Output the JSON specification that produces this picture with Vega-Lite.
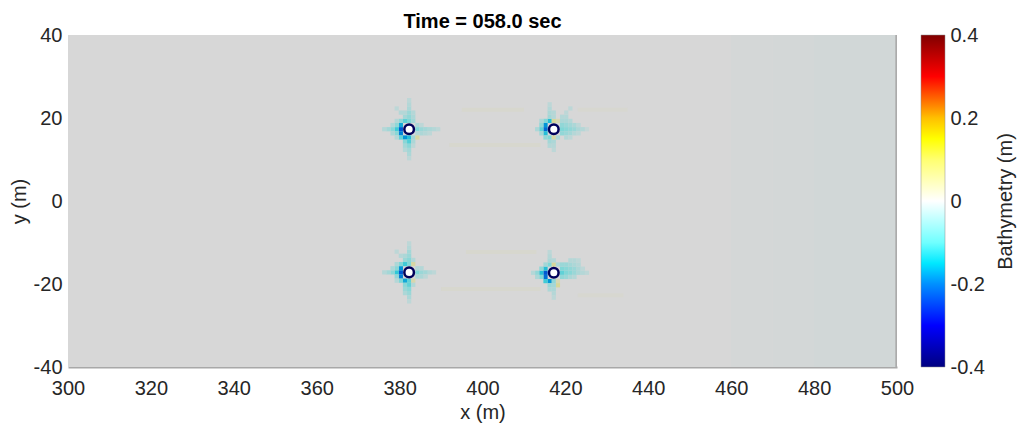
{
  "$schema": "https://vega.github.io/schema/vega-lite/v6.json",
  "background": "white",
  "padding": {"left": 9, "top": 12, "right": 5, "bottom": 5},
  "config": {
    "font": "Liberation Sans",
    "view": {"stroke": null},
    "axis": {"labelFontSize": 20, "titleFontSize": 20, "labelColor": "#262626", "titleColor": "#262626", "titleFontWeight": "normal", "grid": false, "ticks": false}
  },
  "datasets": {
    "patches": [
      {"x": 300, "x2": 500, "y": -40, "y2": 40, "v": 0},
      {"x": 460, "x2": 470, "y": -40, "y2": 40, "v": -0.003},
      {"x": 470, "x2": 480, "y": -40, "y2": 40, "v": -0.005},
      {"x": 480, "x2": 500, "y": -40, "y2": 40, "v": -0.007},
      {"x": 395, "x2": 410, "y": 21.5, "y2": 22.5, "v": 0.01},
      {"x": 392, "x2": 414, "y": 13, "y2": 14, "v": 0.01},
      {"x": 423, "x2": 435, "y": 21.5, "y2": 22.5, "v": 0.008},
      {"x": 396, "x2": 413, "y": -12.8, "y2": -11.8, "v": 0.01},
      {"x": 390, "x2": 414, "y": -21.7, "y2": -20.7, "v": 0.01},
      {"x": 423, "x2": 434, "y": -23.2, "y2": -22.2, "v": 0.008}
    ],
    "edge": [{"x": 499.6, "x2": 500, "y": -40, "y2": 40}],
    "cells": [
      {"x": 380.3, "y": 17.3, "v": -0.26}, {"x": 380.3, "y": 18.3, "v": -0.18}, {"x": 380.3, "y": 16.3, "v": -0.22},
      {"x": 381.3, "y": 15.3, "v": -0.2}, {"x": 382.3, "y": 15.3, "v": -0.16}, {"x": 383.3, "y": 15.3, "v": -0.06},
      {"x": 381.3, "y": 19.3, "v": -0.12}, {"x": 382.3, "y": 19.3, "v": -0.1}, {"x": 383.3, "y": 19.3, "v": -0.06},
      {"x": 384.3, "y": 17.3, "v": -0.1}, {"x": 384.3, "y": 18.3, "v": -0.05}, {"x": 384.3, "y": 16.3, "v": -0.04},
      {"x": 384.3, "y": 15.3, "v": 0.06}, {"x": 380.3, "y": 19.3, "v": -0.08}, {"x": 380.3, "y": 15.3, "v": -0.12},
      {"x": 379.3, "y": 17.3, "v": -0.14}, {"x": 379.3, "y": 16.3, "v": -0.09}, {"x": 379.3, "y": 18.3, "v": -0.08},
      {"x": 378.3, "y": 17.3, "v": -0.09}, {"x": 377.3, "y": 17.3, "v": -0.06}, {"x": 376.3, "y": 17.3, "v": -0.04},
      {"x": 378.3, "y": 16.3, "v": -0.05}, {"x": 378.3, "y": 18.3, "v": -0.04},
      {"x": 382.3, "y": 20.3, "v": -0.08}, {"x": 382.3, "y": 21.3, "v": -0.07}, {"x": 382.3, "y": 22.3, "v": -0.05},
      {"x": 382.3, "y": 23.3, "v": -0.04}, {"x": 382.3, "y": 24.3, "v": -0.03}, {"x": 383.3, "y": 20.3, "v": -0.05},
      {"x": 383.3, "y": 21.3, "v": -0.04}, {"x": 381.3, "y": 20.3, "v": -0.06}, {"x": 380.3, "y": 21.3, "v": -0.04},
      {"x": 379.3, "y": 22.3, "v": -0.03}, {"x": 381.3, "y": 21.3, "v": -0.04},
      {"x": 382.3, "y": 14.3, "v": -0.13}, {"x": 381.3, "y": 14.3, "v": -0.09}, {"x": 382.3, "y": 13.3, "v": -0.09},
      {"x": 382.3, "y": 12.3, "v": -0.06}, {"x": 382.3, "y": 11.3, "v": -0.05}, {"x": 382.3, "y": 10.3, "v": -0.03},
      {"x": 381.3, "y": 13.3, "v": -0.06}, {"x": 383.3, "y": 14.3, "v": -0.05}, {"x": 381.3, "y": 12.3, "v": -0.04},
      {"x": 383.3, "y": 13.3, "v": -0.03},
      {"x": 385.3, "y": 17.3, "v": -0.07}, {"x": 386.3, "y": 17.3, "v": -0.06}, {"x": 387.3, "y": 17.3, "v": -0.05},
      {"x": 388.3, "y": 17.3, "v": -0.04}, {"x": 389.3, "y": 17.3, "v": -0.03}, {"x": 385.3, "y": 16.3, "v": -0.05},
      {"x": 386.3, "y": 16.3, "v": -0.04}, {"x": 387.3, "y": 16.3, "v": -0.03}, {"x": 385.3, "y": 18.3, "v": -0.03},
      {"x": 379.3, "y": 15.3, "v": -0.04}, {"x": 379.3, "y": 19.3, "v": -0.04},

      {"x": 380.3, "y": -17.2, "v": -0.26}, {"x": 380.3, "y": -16.2, "v": -0.2}, {"x": 380.3, "y": -18.2, "v": -0.22},
      {"x": 381.3, "y": -19.2, "v": -0.18}, {"x": 382.3, "y": -19.2, "v": -0.12}, {"x": 383.3, "y": -19.2, "v": 0.05},
      {"x": 381.3, "y": -15.2, "v": -0.14}, {"x": 382.3, "y": -15.2, "v": -0.1}, {"x": 383.3, "y": -15.2, "v": 0.06},
      {"x": 384.3, "y": -17.2, "v": -0.1}, {"x": 384.3, "y": -16.2, "v": -0.04}, {"x": 384.3, "y": -18.2, "v": -0.05},
      {"x": 380.3, "y": -15.2, "v": -0.1}, {"x": 380.3, "y": -19.2, "v": -0.1}, {"x": 379.3, "y": -17.2, "v": -0.15},
      {"x": 379.3, "y": -18.2, "v": -0.08}, {"x": 379.3, "y": -16.2, "v": -0.09}, {"x": 378.3, "y": -17.2, "v": -0.09},
      {"x": 377.3, "y": -17.2, "v": -0.06}, {"x": 376.3, "y": -17.2, "v": -0.04}, {"x": 378.3, "y": -16.2, "v": -0.05},
      {"x": 382.3, "y": -14.2, "v": -0.09}, {"x": 382.3, "y": -13.2, "v": -0.07}, {"x": 382.3, "y": -12.2, "v": -0.06},
      {"x": 382.3, "y": -11.2, "v": -0.04}, {"x": 382.3, "y": -10.2, "v": -0.03}, {"x": 381.3, "y": -14.2, "v": -0.07},
      {"x": 381.3, "y": -13.2, "v": -0.05}, {"x": 383.3, "y": -14.2, "v": -0.04}, {"x": 380.3, "y": -13.2, "v": -0.04},
      {"x": 379.3, "y": -12.2, "v": -0.03},
      {"x": 382.3, "y": -20.2, "v": -0.12}, {"x": 381.3, "y": -20.2, "v": -0.09}, {"x": 382.3, "y": -21.2, "v": -0.09},
      {"x": 382.3, "y": -22.2, "v": -0.07}, {"x": 382.3, "y": -23.2, "v": -0.05}, {"x": 382.3, "y": -24.2, "v": -0.03},
      {"x": 381.3, "y": -21.2, "v": -0.07}, {"x": 381.3, "y": -22.2, "v": -0.05}, {"x": 383.3, "y": -20.2, "v": -0.04},
      {"x": 385.3, "y": -17.2, "v": -0.07}, {"x": 386.3, "y": -17.2, "v": -0.06}, {"x": 387.3, "y": -17.2, "v": -0.04},
      {"x": 388.3, "y": -17.2, "v": -0.03}, {"x": 385.3, "y": -16.2, "v": -0.04}, {"x": 385.3, "y": -18.2, "v": -0.05},
      {"x": 386.3, "y": -18.2, "v": -0.03}, {"x": 379.3, "y": -19.2, "v": -0.04}, {"x": 379.3, "y": -15.2, "v": -0.05},

      {"x": 415.2, "y": 17.3, "v": -0.24}, {"x": 415.2, "y": 18.3, "v": -0.2}, {"x": 415.2, "y": 16.3, "v": -0.16},
      {"x": 416.2, "y": 19.3, "v": -0.16}, {"x": 417.2, "y": 19.3, "v": 0.07}, {"x": 418.2, "y": 19.3, "v": 0.04},
      {"x": 416.2, "y": 15.3, "v": -0.1}, {"x": 417.2, "y": 15.3, "v": 0.06}, {"x": 418.2, "y": 15.3, "v": -0.05},
      {"x": 419.2, "y": 17.3, "v": -0.1}, {"x": 419.2, "y": 18.3, "v": -0.08}, {"x": 419.2, "y": 16.3, "v": -0.08},
      {"x": 415.2, "y": 19.3, "v": -0.1}, {"x": 415.2, "y": 15.3, "v": -0.08}, {"x": 414.2, "y": 17.3, "v": -0.12},
      {"x": 414.2, "y": 18.3, "v": -0.08}, {"x": 414.2, "y": 16.3, "v": -0.06}, {"x": 413.2, "y": 17.3, "v": -0.05},
      {"x": 414.2, "y": 19.3, "v": -0.05},
      {"x": 420.2, "y": 17.3, "v": -0.09}, {"x": 421.2, "y": 17.3, "v": -0.08}, {"x": 422.2, "y": 17.3, "v": -0.07},
      {"x": 423.2, "y": 17.3, "v": -0.05}, {"x": 424.2, "y": 17.3, "v": -0.04}, {"x": 425.2, "y": 17.3, "v": -0.02},
      {"x": 420.2, "y": 18.3, "v": -0.07}, {"x": 421.2, "y": 18.3, "v": -0.06}, {"x": 422.2, "y": 18.3, "v": -0.05},
      {"x": 423.2, "y": 18.3, "v": -0.03}, {"x": 420.2, "y": 16.3, "v": -0.07}, {"x": 421.2, "y": 16.3, "v": -0.06},
      {"x": 422.2, "y": 16.3, "v": -0.04}, {"x": 423.2, "y": 16.3, "v": -0.03}, {"x": 420.2, "y": 15.3, "v": -0.04},
      {"x": 421.2, "y": 15.3, "v": -0.03},
      {"x": 419.2, "y": 20.3, "v": -0.04}, {"x": 420.2, "y": 20.3, "v": -0.04}, {"x": 420.2, "y": 21.3, "v": -0.03},
      {"x": 421.2, "y": 22.3, "v": -0.03}, {"x": 419.2, "y": 19.3, "v": -0.05}, {"x": 420.2, "y": 19.3, "v": -0.05},
      {"x": 421.2, "y": 19.3, "v": -0.04},
      {"x": 416.2, "y": 20.3, "v": -0.06}, {"x": 416.2, "y": 21.3, "v": -0.05}, {"x": 417.2, "y": 21.3, "v": -0.04},
      {"x": 416.2, "y": 22.3, "v": -0.04}, {"x": 416.2, "y": 23.3, "v": -0.03}, {"x": 417.2, "y": 20.3, "v": -0.04},
      {"x": 417.2, "y": 14.3, "v": -0.05}, {"x": 416.2, "y": 14.3, "v": -0.06}, {"x": 417.2, "y": 13.3, "v": -0.04},
      {"x": 417.2, "y": 12.3, "v": -0.03}, {"x": 416.2, "y": 13.3, "v": -0.04},

      {"x": 415.2, "y": -17.3, "v": -0.26}, {"x": 415.2, "y": -16.3, "v": -0.16}, {"x": 415.2, "y": -18.3, "v": -0.24},
      {"x": 416.2, "y": -19.3, "v": -0.2}, {"x": 417.2, "y": -19.3, "v": -0.08}, {"x": 418.2, "y": -19.3, "v": 0.04},
      {"x": 418.2, "y": -20.3, "v": 0.07}, {"x": 416.2, "y": -15.3, "v": -0.1}, {"x": 417.2, "y": -15.3, "v": 0.07},
      {"x": 418.2, "y": -15.3, "v": -0.05}, {"x": 419.2, "y": -17.3, "v": -0.12}, {"x": 419.2, "y": -16.3, "v": -0.1},
      {"x": 419.2, "y": -18.3, "v": -0.08}, {"x": 415.2, "y": -15.3, "v": -0.06}, {"x": 415.2, "y": -19.3, "v": -0.14},
      {"x": 414.2, "y": -17.3, "v": -0.16}, {"x": 414.2, "y": -18.3, "v": -0.1}, {"x": 414.2, "y": -16.3, "v": -0.08},
      {"x": 413.2, "y": -17.3, "v": -0.08}, {"x": 413.2, "y": -18.3, "v": -0.05}, {"x": 412.2, "y": -17.3, "v": -0.04},
      {"x": 420.2, "y": -17.3, "v": -0.1}, {"x": 421.2, "y": -17.3, "v": -0.09}, {"x": 422.2, "y": -17.3, "v": -0.07},
      {"x": 423.2, "y": -17.3, "v": -0.05}, {"x": 424.2, "y": -17.3, "v": -0.04}, {"x": 425.2, "y": -17.3, "v": -0.03},
      {"x": 420.2, "y": -16.3, "v": -0.09}, {"x": 421.2, "y": -16.3, "v": -0.08}, {"x": 422.2, "y": -16.3, "v": -0.07},
      {"x": 423.2, "y": -16.3, "v": -0.05}, {"x": 424.2, "y": -16.3, "v": -0.03}, {"x": 420.2, "y": -15.3, "v": -0.07},
      {"x": 421.2, "y": -15.3, "v": -0.06}, {"x": 422.2, "y": -15.3, "v": -0.05}, {"x": 423.2, "y": -15.3, "v": -0.04},
      {"x": 421.2, "y": -14.3, "v": -0.04}, {"x": 422.2, "y": -14.3, "v": -0.04}, {"x": 423.2, "y": -14.3, "v": -0.03},
      {"x": 420.2, "y": -18.3, "v": -0.07}, {"x": 421.2, "y": -18.3, "v": -0.05}, {"x": 422.2, "y": -18.3, "v": -0.04},
      {"x": 419.2, "y": -15.3, "v": -0.07},
      {"x": 417.2, "y": -14.3, "v": -0.04}, {"x": 416.2, "y": -14.3, "v": -0.05}, {"x": 416.2, "y": -13.3, "v": -0.04},
      {"x": 416.2, "y": -12.3, "v": -0.03},
      {"x": 417.2, "y": -20.3, "v": -0.06}, {"x": 416.2, "y": -20.3, "v": -0.07}, {"x": 417.2, "y": -21.3, "v": -0.05},
      {"x": 416.2, "y": -21.3, "v": -0.05}, {"x": 417.2, "y": -22.3, "v": -0.04}, {"x": 417.2, "y": -23.3, "v": -0.03}
    ],
    "piles": [
      {"x": 382.3, "y": 17.3}, {"x": 417.2, "y": 17.3}, {"x": 382.3, "y": -17.2}, {"x": 417.2, "y": -17.3}
    ],
    "cbar": [{"lo": -0.4, "hi": 0.4}]
  },
  "hconcat": [
    {
      "width": 829,
      "height": 332,
      "title": {"text": "Time = 058.0 sec", "fontSize": 20, "fontWeight": "bold", "color": "#000000", "anchor": "middle", "offset": -7},
      "encoding": {
        "x": {"field": "x", "type": "quantitative", "scale": {"domain": [300, 500], "nice": false, "zero": false},
          "axis": {"values": [300, 320, 340, 360, 380, 400, 420, 440, 460, 480, 500], "title": "x (m)", "labelPadding": 11, "titlePadding": 4,
            "domain": true, "domainColor": "#a8a8a8", "domainWidth": 2, "labelFlush": false, "labelOverlap": false, "labelExpr": "toString(datum.value)"}},
        "y": {"field": "y", "type": "quantitative", "scale": {"domain": [-40, 40], "nice": false, "zero": false},
          "axis": {"values": [-40, -20, 0, 20, 40], "title": "y (m)", "labelPadding": 6, "titlePadding": 4, "domain": false,
            "labelFlush": false, "labelOverlap": false, "labelBound": false, "labelExpr": "toString(datum.value)"}}
      },
      "layer": [
        {
          "data": {"name": "patches"},
          "mark": {"type": "rect"},
          "encoding": {
            "x2": {"field": "x2"},
            "y2": {"field": "y2"},
            "color": {"field": "v", "type": "quantitative", "legend": null,
              "scale": {"domain": [-0.4, -0.3, -0.2, -0.15, -0.1, 0, 0.1, 0.15, 0.2, 0.3, 0.4],
                "range": ["#00005a", "#0030d0", "#0095d7", "#30c8d7", "#80d7d7", "#d7d7d7", "#d7d780", "#d7d700", "#d7a200", "#d70000", "#6b0000"],
                "interpolate": "rgb", "clamp": true}}
          }
        },
        {
          "data": {"name": "edge"},
          "mark": {"type": "rect", "color": "#ababab"},
          "encoding": {"x2": {"field": "x2"}, "y2": {"field": "y2"}}
        },
        {
          "data": {"name": "cells"},
          "mark": {"type": "point", "shape": "square", "filled": true, "size": 18, "opacity": 1},
          "encoding": {
            "color": {"field": "v", "type": "quantitative", "legend": null}
          }
        },
        {
          "data": {"name": "piles"},
          "mark": {"type": "point", "shape": "circle", "filled": true, "fill": "#ffffff", "stroke": "#00005a", "strokeWidth": 2.5, "size": 92, "opacity": 1}
        }
      ]
    },
    {
      "width": 24,
      "height": 332,
      "data": {"name": "cbar"},
      "mark": {"type": "rect", "stroke": "#8c8c8c", "strokeWidth": 0.5,
        "color": {"gradient": "linear", "x1": 0, "y1": 1, "x2": 0, "y2": 0,
          "stops": [
            {"offset": 0, "color": "#000080"},
            {"offset": 0.125, "color": "#0000ff"},
            {"offset": 0.25, "color": "#0090ff"},
            {"offset": 0.3125, "color": "#00e8ff"},
            {"offset": 0.375, "color": "#70ffff"},
            {"offset": 0.5, "color": "#ffffff"},
            {"offset": 0.625, "color": "#ffff70"},
            {"offset": 0.6875, "color": "#ffff00"},
            {"offset": 0.75, "color": "#ffc000"},
            {"offset": 0.875, "color": "#ff0000"},
            {"offset": 1, "color": "#800000"}
          ]}},
      "encoding": {
        "y": {"field": "lo", "type": "quantitative", "scale": {"domain": [-0.4, 0.4], "nice": false, "zero": false},
          "axis": {"orient": "right", "values": [-0.4, -0.2, 0, 0.2, 0.4], "labelExpr": "toString(datum.value)", "title": "Bathymetry (m)",
            "titleAngle": 270, "labelPadding": 5, "titlePadding": 31, "domain": false, "labelFlush": false, "labelOverlap": false, "labelBound": false}},
        "y2": {"field": "hi"}
      }
    }
  ],
  "spacing": 6
}
